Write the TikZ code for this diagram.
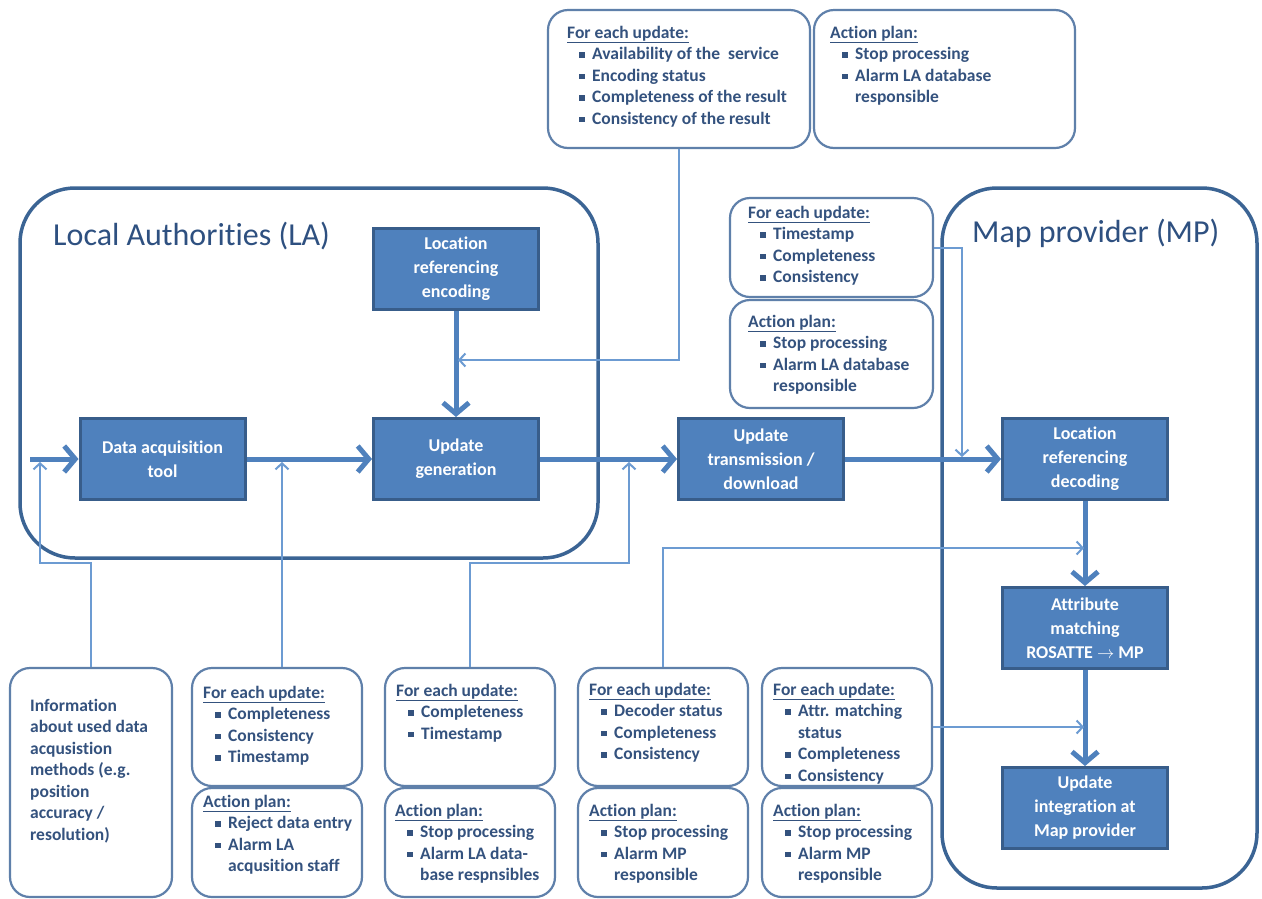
\documentclass[tikz,border=0pt]{standalone}
\usepackage{fontspec}
\setmainfont{Carlito}[Ligatures={NoCommon,NoContextual}]
\usetikzlibrary{arrows.meta}

\definecolor{boxfill}{HTML}{4F81BD}
\definecolor{boxline}{HTML}{385D8A}
\definecolor{flowcol}{HTML}{4F81BD}
\definecolor{framecol}{HTML}{3B6494}
\definecolor{notecol}{HTML}{5F80AA}
\definecolor{notetext}{HTML}{34527E}
\definecolor{feedcol}{HTML}{6C9BD2}
\definecolor{titlecol}{HTML}{2E5080}

% note text helpers: underlined heading, bullet item, continuation line
\newcommand\hd[1]{\underline{#1}}
\newcommand\itm{\hspace*{12pt}\rule[1.8pt]{5.5pt}{5.5pt}\hspace*{7.5pt}}
\newcommand\cnt{\hspace*{25pt}}
\newcommand\notelines[1]{\begin{tabular}[t]{@{}l@{}}#1\end{tabular}}

\tikzset{
  proc/.style={draw=boxline, line width=3pt, fill=boxfill, text=white, align=center,
    font=\fontsize{18}{24}\selectfont\bfseries, minimum width=165pt, minimum height=81pt, inner sep=2pt},
  group/.style={draw=framecol, line width=3.5pt, rounded corners=55pt, inner sep=0pt},
  notebox/.style={draw=notecol, line width=2.2pt, rounded corners=20pt, fill=white, inner sep=0pt},
  notetxt/.style={text=notetext, font=\fontsize{17.5}{21.5}\selectfont\bfseries, inner sep=0pt, anchor=base west},
  flow/.style={draw=flowcol, line width=5pt, -{Straight Barb[length=11pt,width=26pt]}},
  feed/.style={draw=feedcol, line width=2pt, -{Straight Barb[length=6pt,width=13pt]}},
  grouptitle/.style={text=titlecol, font=\fontsize{32}{38}\selectfont, inner sep=0pt, anchor=base west},
}

\begin{document}
\begin{tikzpicture}[x=1pt,y=-1pt]
\fill[white] (0,0) rectangle (1262,898);
\useasboundingbox (0,0) rectangle (1262,898);

% organisation frames
\node[group, minimum width=578pt, minimum height=370pt] (la) at (309,373) {};
\node[group, minimum width=315pt, minimum height=700pt] (mp) at (1099.5,538) {};
\node[grouptitle] (latitle) at (53,245) {Local Authorities (LA)};
\node[grouptitle] (mptitle) at (972,242) {Map provider (MP)};

% process steps
\node[proc] (enc) at (456,269) {Location\\referencing\\encoding};
\node[proc] (dat) at (162.5,459) {Data acquisition\\tool};
\node[proc] (ug)  at (456,459) {Update\\generation};
\node[proc] (utd) at (761,459) {Update\\transmission /\\download};
\node[proc] (lrd) at (1085,459) {Location\\referencing\\decoding};
\node[proc] (am)  at (1085,628) {Attribute\\matching\\ROSATTE $\rightarrow$ MP};
\node[proc] (ui)  at (1085,808) {Update\\integration at\\Map provider};

% main data flow
\coordinate (src) at (30,459);
\draw[flow] (src) -- (dat.west);
\draw[flow] (dat.east) -- (ug.west);
\draw[flow] (enc.south) -- (ug.north);
\draw[flow] (ug.east) -- (utd.west);
\draw[flow] (utd.east) -- (lrd.west);
\draw[flow] (lrd.south) -- (am.north);
\draw[flow] (am.south) -- (ui.north);

% quality check notes
\node[notebox, minimum width=262pt, minimum height=138pt] (top1) at (679,79) {};
\node[notebox, minimum width=261pt, minimum height=138pt] (top2) at (944.5,79) {};
\node[notebox, minimum width=203pt, minimum height=99pt]  (mr1) at (831.5,247.5) {};
\node[notebox, minimum width=203pt, minimum height=108pt] (mr2) at (831.5,354) {};
\node[notebox, minimum width=162pt, minimum height=229pt] (info) at (91,782.5) {};
\node[notebox, minimum width=170pt, minimum height=118pt] (b2)  at (277,727) {};
\node[notebox, minimum width=170pt, minimum height=109pt] (b2a) at (277,842.5) {};
\node[notebox, minimum width=170pt, minimum height=118pt] (b3)  at (470,727) {};
\node[notebox, minimum width=170pt, minimum height=109pt] (b3a) at (470,842.5) {};
\node[notebox, minimum width=170pt, minimum height=118pt] (b4)  at (663,727) {};
\node[notebox, minimum width=170pt, minimum height=109pt] (b4a) at (663,842.5) {};
\node[notebox, minimum width=170pt, minimum height=118pt] (b5)  at (847,727) {};
\node[notebox, minimum width=170pt, minimum height=109pt] (b5a) at (847,842.5) {};

\node[notetxt] (t1) at (567,38) {\notelines{\hd{For each update:}\\
  \itm Availability of the \ service\\ \itm Encoding status\\
  \itm Completeness of the result\\ \itm Consistency of the result}};
\node[notetxt] (t2) at (830,38) {\notelines{\hd{Action plan:}\\
  \itm Stop processing\\ \itm Alarm LA database\\ \cnt responsible}};
\node[notetxt] (tmr1) at (748,218) {\notelines{\hd{For each update:}\\
  \itm Timestamp\\ \itm Completeness\\ \itm Consistency}};
\node[notetxt] (tmr2) at (748,327) {\notelines{\hd{Action plan:}\\
  \itm Stop processing\\ \itm Alarm LA database\\ \cnt responsible}};
\node[notetxt] (tinfo) at (30,711) {\notelines{Information\\ about used data\\
  acqusistion\\ methods (e.g.\\ position\\ accuracy /\\ resolution)}};
\node[notetxt] (tb2) at (203,698) {\notelines{\hd{For each update:}\\
  \itm Completeness\\ \itm Consistency\\ \itm Timestamp}};
\node[notetxt] (tb2a) at (203,807) {\notelines{\hd{Action plan:}\\
  \itm Reject data entry\\ \itm Alarm LA\\ \cnt acqusition staff}};
\node[notetxt] (tb3) at (396,696) {\notelines{\hd{For each update:}\\
  \itm Completeness\\ \itm Timestamp}};
\node[notetxt] (tb3a) at (395,816) {\notelines{\hd{Action plan:}\\
  \itm Stop processing\\ \itm Alarm LA data-\\ \cnt base respnsibles}};
\node[notetxt] (tb4) at (589,695) {\notelines{\hd{For each update:}\\
  \itm Decoder status\\ \itm Completeness\\ \itm Consistency}};
\node[notetxt] (tb4a) at (589,816) {\notelines{\hd{Action plan:}\\
  \itm Stop processing\\ \itm Alarm MP\\ \cnt responsible}};
\node[notetxt] (tb5) at (773,695) {\notelines{\hd{For each update:}\\
  \itm Attr. matching\\ \cnt status\\ \itm Completeness\\ \itm Consistency}};
\node[notetxt] (tb5a) at (773,816) {\notelines{\hd{Action plan:}\\
  \itm Stop processing\\ \itm Alarm MP\\ \cnt responsible}};

% feedback of the checks into the flow
\coordinate (in1) at (458,360);
\coordinate (in2) at (962,457);
\coordinate (k3) at (40,563);
\coordinate (in3) at (40,462);
\coordinate (in4) at (282,462);
\coordinate (k5) at (629,563);
\coordinate (in5) at (629,462);
\coordinate (in6) at (1084,548);
\coordinate (in7) at (1084,727);
\draw[feed] (top1.south) |- (in1);
\draw[feed] (mr1.east) -| (in2);
\draw[feed] (info.north) |- (k3) -- (in3);
\draw[feed] (b2.north -| in4) -- (in4);
\draw[feed] (b3.north) |- (k5) -- (in5);
\draw[feed] (b4.north) |- (in6);
\draw[feed] (b5.east) -- (in7);
\end{tikzpicture}
\end{document}
